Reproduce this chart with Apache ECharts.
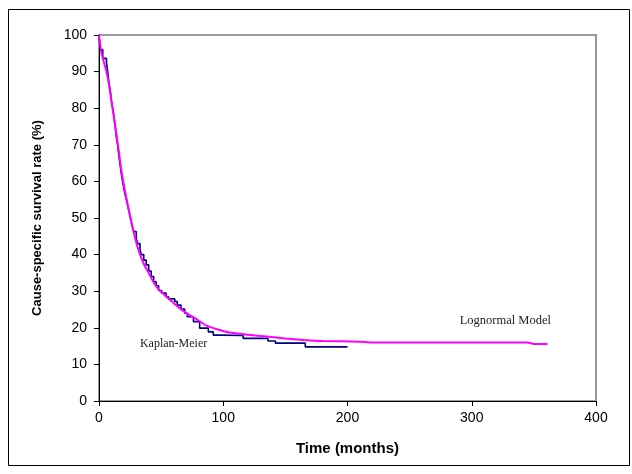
<!DOCTYPE html>
<html>
<head>
<meta charset="utf-8">
<script src="https://cdn.jsdelivr.net/npm/echarts@6/dist/echarts.min.js"></script>
<style>
  html, body { margin: 0; padding: 0; background: #fff; }
  #chart { width: 632px; height: 474px; }
</style>
</head>
<body>
<div id="chart"></div>
<script>
// Kaplan-Meier steps: [month, survival %]
const kmPoints = [
  [0, 100], [1, 96], [3, 93.6], [6, 92.5], [7, 90], [8, 87], [9, 85], [10, 82],
  [11, 80], [12, 78], [13, 75], [14, 72], [15, 70], [16, 67], [17, 64.5], [18, 62],
  [19, 60], [20, 58], [21, 56.5], [22, 55], [23, 53.5], [24, 52], [25, 50.5], [26, 49],
  [27, 47.5], [28, 46.3], [30, 44.5], [31, 43], [33, 41.5], [34, 40], [36, 38.5],
  [38, 37.2], [40, 35.5], [42, 34], [44, 32.6], [46, 31.5], [48, 30.2], [50.5, 29.5],
  [54, 28.5], [56, 27.9], [61, 27.2], [63, 26.2], [66, 25.1], [69, 24], [71, 23],
  [76, 21.7], [81, 19.9], [88, 18.9], [92, 18], [99, 17.9], [116, 17.1], [136, 16.4],
  [142, 15.8], [166, 14.8], [200, 14.8]
];

// lognormal model curve
const lognormalPoints = [
  [0, 100], [2, 95], [4, 92.5], [6, 90], [8, 86.5], [10, 82], [12, 77.5], [14, 73],
  [16, 68], [18, 63], [20, 59], [22, 55.5], [25, 50.5], [28, 46], [32, 41], [36, 37.5],
  [40, 35], [43, 33], [48, 30.5], [55, 28.3], [60, 26.8], [65, 25.3], [70, 24.1],
  [80, 22], [87, 20.5], [95, 19.6], [105, 18.7], [120, 18.1], [135, 17.6], [150, 17.1],
  [165, 16.7], [180, 16.4], [210, 16.2], [220, 16], [345, 16], [350, 15.6], [361, 15.6]
];

const xTicks = { min: 0, max: 400, step: 100 };
const yTicks = { min: 0, max: 100, step: 10 };

const chart = echarts.init(document.getElementById('chart'), null, { renderer: 'canvas' });

const labelFont = 'Liberation Sans, Arial, sans-serif';
const noteFont = 'Liberation Serif, Times New Roman, serif';

const option = {
  animation: false,
  backgroundColor: '#fff',
  grid: {
    left: 99, right: 36, top: 35, bottom: 73,
    show: true,
    borderColor: '#999',
    borderWidth: 2,
    backgroundColor: 'transparent'
  },
  xAxis: {
    type: 'value',
    min: xTicks.min, max: xTicks.max, interval: xTicks.step,
    name: 'Time (months)',
    nameLocation: 'middle',
    nameGap: 40,
    nameTextStyle: { fontFamily: labelFont, fontWeight: 'bold', fontSize: 15, color: '#000' },
    axisLine: { lineStyle: { color: '#000', width: 1 } },
    axisTick: { inside: false, length: 5, lineStyle: { color: '#000' } },
    axisLabel: { fontFamily: labelFont, fontSize: 14, color: '#000', margin: 10 },
    splitLine: { show: false }
  },
  yAxis: {
    type: 'value',
    min: yTicks.min, max: yTicks.max, interval: yTicks.step,
    name: 'Cause-specific survival rate (%)',
    nameLocation: 'middle',
    nameGap: 55,
    nameTextStyle: { fontFamily: labelFont, fontWeight: 'bold', fontSize: 13, color: '#000' },
    axisLine: { show: true, lineStyle: { color: '#000', width: 1 } },
    axisTick: { show: true, inside: false, length: 5, lineStyle: { color: '#000' } },
    axisLabel: { fontFamily: labelFont, fontSize: 14, color: '#000', margin: 12 },
    splitLine: { show: false }
  },
  graphic: [{
    type: 'rect',
    shape: { x: 8.5, y: 9.5, width: 621, height: 456 },
    style: { fill: 'none', stroke: '#000', lineWidth: 1 },
    silent: true
  }],
  series: [
    {
      name: 'Kaplan-Meier',
      type: 'line',
      step: 'end',
      data: kmPoints,
      symbol: 'none',
      lineStyle: { color: '#000080', width: 1.6 },
      z: 2,
      markPoint: {
        symbol: 'circle', symbolSize: 0,
        label: {
          show: true, formatter: '{b}', fontFamily: noteFont, fontSize: 12, color: '#222'
        },
        data: [{ name: 'Kaplan-Meier', coord: [60, 15.6] }]
      }
    },
    {
      name: 'Lognormal Model',
      type: 'line',
      data: lognormalPoints,
      symbol: 'none',
      smooth: 0.2,
      lineStyle: { color: '#ff00ff', width: 2 },
      z: 3,
      markPoint: {
        symbol: 'circle', symbolSize: 0,
        label: {
          show: true, formatter: '{b}', fontFamily: noteFont, fontSize: 12.5, color: '#222'
        },
        data: [{ name: 'Lognormal Model', coord: [327, 21.9] }]
      }
    }
  ]
};

chart.setOption(option);
</script>
</body>
</html>
